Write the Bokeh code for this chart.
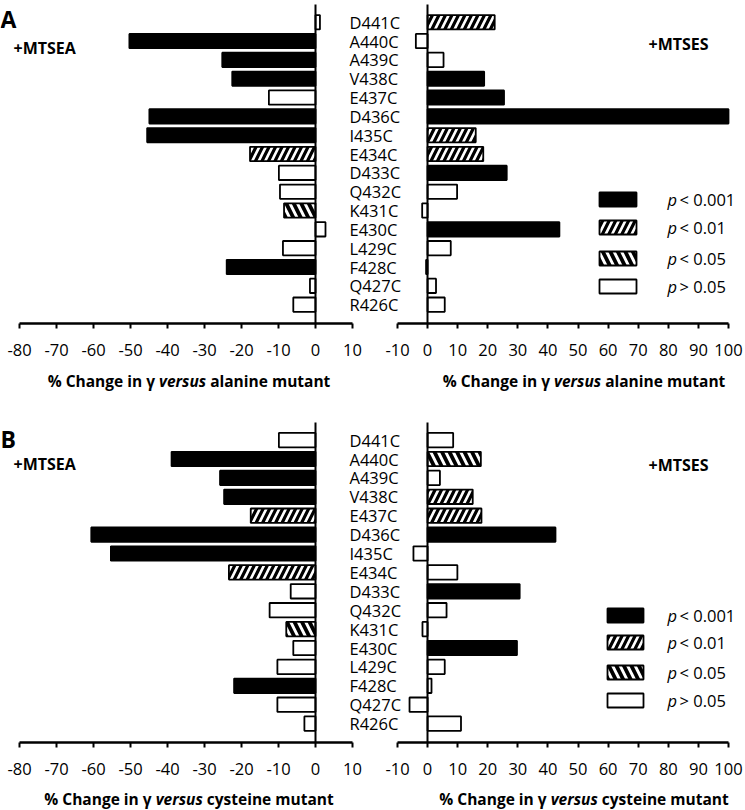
from bokeh.plotting import figure
from bokeh.models import Range1d, LinearAxis, FixedTicker, Label, Div, ColumnDataSource, Grid
from bokeh.layouts import column
from bokeh.embed import file_html
from bokeh.resources import INLINE

# ---------------- data ----------------
categories = ["D441C", "A440C", "A439C", "V438C", "E437C", "D436C", "I435C", "E434C",
              "D433C", "Q432C", "K431C", "E430C", "L429C", "F428C", "Q427C", "R426C"]

ticks_mtsea = [-80, -70, -60, -50, -40, -30, -20, -10, 0, 10]
ticks_mtses = [-10, 0, 10, 20, 30, 40, 50, 60, 70, 80, 90, 100]

# Panel A: % change in gamma versus alanine mutant
a_mtsea = [1.2, -50.3, -25.2, -22.5, -12.6, -44.9, -45.5, -17.7, -9.9, -9.6, -8.5, 2.7, -8.8, -24.0, -1.5, -6.0]
a_mtsea_sig = ["ns", "***", "***", "***", "ns", "***", "***", "**", "ns", "ns", "*", "ns", "ns", "***", "ns", "ns"]
a_mtses = [22.3, -3.9, 5.3, 18.8, 25.4, 100.0, 16.0, 18.5, 26.3, 9.8, -1.8, 43.8, 7.7, -0.5, 2.8, 5.7]
a_mtses_sig = ["**", "ns", "ns", "***", "***", "***", "**", "**", "***", "ns", "ns", "***", "ns", "ns", "ns", "ns"]

# Panel B: % change in gamma versus cysteine mutant
b_mtsea = [-9.9, -38.9, -25.8, -24.7, -17.5, -60.6, -55.3, -23.4, -6.7, -12.4, -7.9, -6.0, -10.3, -22.0, -10.3, -3.0]
b_mtsea_sig = ["ns", "***", "***", "***", "**", "***", "***", "**", "ns", "ns", "*", "ns", "ns", "***", "ns", "ns"]
b_mtses = [8.5, 17.7, 4.1, 15.0, 17.9, 42.5, -4.7, 9.9, 30.6, 6.3, -1.7, 29.7, 5.7, 1.3, -6.0, 11.1]
b_mtses_sig = ["ns", "*", "ns", "**", "**", "***", "ns", "ns", "***", "ns", "ns", "***", "ns", "ns", "ns", "ns"]

sig_levels = ["***", "**", "*", "ns"]
legend_rest = ["< 0.001", "< 0.01", "< 0.05", "> 0.05"]

# ---------------- styles / layout ----------------
FONT = "Open Sans"
FS = "16.5px"
CANVAS_W = 745
PAGE_X0 = 0
# page-pixel anchors of the two scales
L_PX = (19.0, 352.0)   # -80 .. 10
R_PX = (397.0, 728.0)  # -10 .. 100
BAR_H = 0.76

STYLE = {
    "***": dict(fill_color="black"),
    "**": dict(fill_color="white", hatch_pattern="right_diagonal_line", hatch_color="black",
               hatch_weight=3.2, hatch_scale=13),
    "*": dict(fill_color="white", hatch_pattern="left_diagonal_line", hatch_color="black",
              hatch_weight=3.8, hatch_scale=15),
    "ns": dict(fill_color="white"),
}


def px_left(px):
    return -80 + (px - L_PX[0]) * 90.0 / (L_PX[1] - L_PX[0])


def px_right(px):
    return -10 + (px - R_PX[0]) * 110.0 / (R_PX[1] - R_PX[0])


rows = [len(categories) - i for i in range(len(categories))]  # D441C top ... R426C = 1


def style_x_axis(ax, ticks):
    ax.ticker = FixedTicker(ticks=ticks)
    ax.major_label_overrides = {t: str(t) for t in ticks}
    ax.axis_line_width = 2.5
    ax.axis_line_color = "black"
    ax.major_tick_in = 0
    ax.major_tick_out = 5
    ax.major_tick_line_width = 2
    ax.major_tick_line_color = "black"
    ax.minor_tick_line_color = None
    ax.major_label_text_font = FONT
    ax.major_label_text_font_size = FS
    ax.major_label_text_color = "black"
    ax.major_label_standoff = 15


def draw_bars(p, vals, sigs, range_name=None):
    for lvl in sig_levels:
        idx = [i for i, s in enumerate(sigs) if s == lvl]
        if not idx:
            continue
        src = ColumnDataSource(dict(y=[rows[i] for i in idx], right=[vals[i] for i in idx],
                                    cat=[categories[i] for i in idx]))
        kw = dict(y="y", left=0, right="right", height=BAR_H, source=src,
                  line_color="black", line_width=1.8, **STYLE[lvl])
        if range_name:
            kw["x_range_name"] = range_name
        p.hbar(**kw)


def make_panel(letter, mtsea, mtsea_sig, mtses, mtses_sig, spec):
    top, bot, axis_py, pitch = spec["top"], spec["bot"], spec["axis"], spec["pitch"]

    def v(py):
        return (axis_py - py) / pitch

    p = figure(width=CANVAS_W, height=bot - top, output_backend="svg", toolbar_location=None,
               tools="", x_axis_location=None, y_axis_location=None,
               x_range=Range1d(px_left(PAGE_X0), px_left(PAGE_X0 + CANVAS_W)),
               y_range=Range1d(v(bot), v(top)), min_border=0, outline_line_color=None)
    p.extra_x_ranges = {"right": Range1d(px_right(PAGE_X0), px_right(PAGE_X0 + CANVAS_W))}
    p.center = [r for r in p.center if not isinstance(r, Grid)]

    draw_bars(p, mtsea, mtsea_sig)
    draw_bars(p, mtses, mtses_sig, "right")

    # horizontal axes
    axl = LinearAxis(fixed_location=0, bounds=(ticks_mtsea[0], ticks_mtsea[-1]))
    style_x_axis(axl, ticks_mtsea)
    p.add_layout(axl, "below")
    axr = LinearAxis(x_range_name="right", fixed_location=0, bounds=(ticks_mtses[0], ticks_mtses[-1]))
    style_x_axis(axr, ticks_mtses)
    p.add_layout(axr, "below")

    # zero lines (vertical axes without ticks)
    for rn in (None, "right"):
        kw = dict(fixed_location=0, bounds=(0, v(spec["zero_top"])), ticker=FixedTicker(ticks=[]),
                  axis_line_width=2, axis_line_color="black", major_tick_line_color=None,
                  minor_tick_line_color=None, major_label_text_font_size="0px")
        if rn:
            kw["x_range_name"] = rn
        p.add_layout(LinearAxis(**kw), "left")

    # category labels between the two plots
    cat_ax = LinearAxis(fixed_location=ticks_mtsea[-1], ticker=FixedTicker(ticks=rows),
                        major_label_overrides={r: c for r, c in zip(rows, categories)},
                        axis_line_color=None, major_tick_line_color=None, minor_tick_line_color=None,
                        major_tick_in=0, major_tick_out=0, major_label_standoff=-3,
                        major_label_text_font=FONT, major_label_text_font_size=FS,
                        major_label_text_color="black")
    p.add_layout(cat_ax, "right")

    # legend (manual, so that the p can be italic)
    bx0, bx1 = spec["leg_box"]
    for k, lvl in enumerate(sig_levels):
        yy = v(spec["leg_y"][k])
        p.rect(x=[px_right((bx0 + bx1) / 2)], y=[yy], width=bx1 - bx0, height=14,
               width_units="screen", height_units="screen", x_range_name="right",
               line_color="black", line_width=1.8, **STYLE[lvl])
        p.add_layout(Label(x=px_right(spec["leg_tx"]), y=yy, x_range_name="right", text="p",
                           text_font=FONT, text_font_size=FS, text_font_style="italic",
                           text_baseline="middle", text_align="left", text_color="black"))
        p.add_layout(Label(x=px_right(spec["leg_tx"] + 12), y=yy, x_range_name="right",
                           text=legend_rest[k], text_font=FONT, text_font_size=FS,
                           text_baseline="middle", text_align="left", text_color="black"))

    # treatment labels and panel letter
    p.add_layout(Label(x=px_left(13), y=v(spec["mtsea_y"]), text="+MTSEA", text_font=FONT,
                       text_font_size="16px", text_font_style="bold", text_baseline="middle",
                       text_color="black"))
    p.add_layout(Label(x=px_right(648), y=v(spec["mtses_y"]), x_range_name="right", text="+MTSES",
                       text_font=FONT, text_font_size="16px", text_font_style="bold",
                       text_baseline="middle", text_color="black"))
    p.add_layout(Label(x=px_left(PAGE_X0), y=v(spec["letter_base"]), text=letter, text_font=FONT,
                       text_font_size="23px", text_font_style="bold", text_baseline="alphabetic",
                       text_color="black"))
    return p


spec_a = dict(top=0, bot=362, axis=323, pitch=18.83, zero_top=4,
              leg_box=(599, 636), leg_tx=667, leg_y=[199, 227, 258, 286],
              mtsea_y=47, mtses_y=43, letter_base=18)
spec_b = dict(top=400, bot=778, axis=740, pitch=18.9, zero_top=420,
              leg_box=(607, 643), leg_tx=667, leg_y=[613, 640, 670, 698],
              mtsea_y=461, mtses_y=462, letter_base=436)

pA = make_panel("A", a_mtsea, a_mtsea_sig, a_mtses, a_mtses_sig, spec_a)
pB = make_panel("B", b_mtsea, b_mtsea_sig, b_mtses, b_mtses_sig, spec_b)


def xlabel_div(tail, h, top):
    st = ("font-family:'Open Sans';font-weight:bold;font-size:15.5px;line-height:20px;color:#000;"
          "white-space:nowrap;position:absolute;top:%dpx;transform:translateX(-50%%);" % top)
    html = ('<div style="position:relative;display:block;width:%dpx;height:%dpx;overflow:visible">'
            % (CANVAS_W, h)
            + '<span style="%sleft:%dpx">%% Change in γ <i>versus</i> %s</span>' % (st, 184 - PAGE_X0, tail)
            + '<span style="%sleft:%dpx">%% Change in γ <i>versus</i> %s</span>' % (st, 579 - PAGE_X0, tail)
            + '</div>')
    return Div(text=html, width=CANVAS_W, height=h)


layout = column(pA, xlabel_div("alanine mutant", 30, 4), pB, xlabel_div("cysteine mutant", 24, 4))

open("out.html", "w").write(file_html(layout, INLINE))
